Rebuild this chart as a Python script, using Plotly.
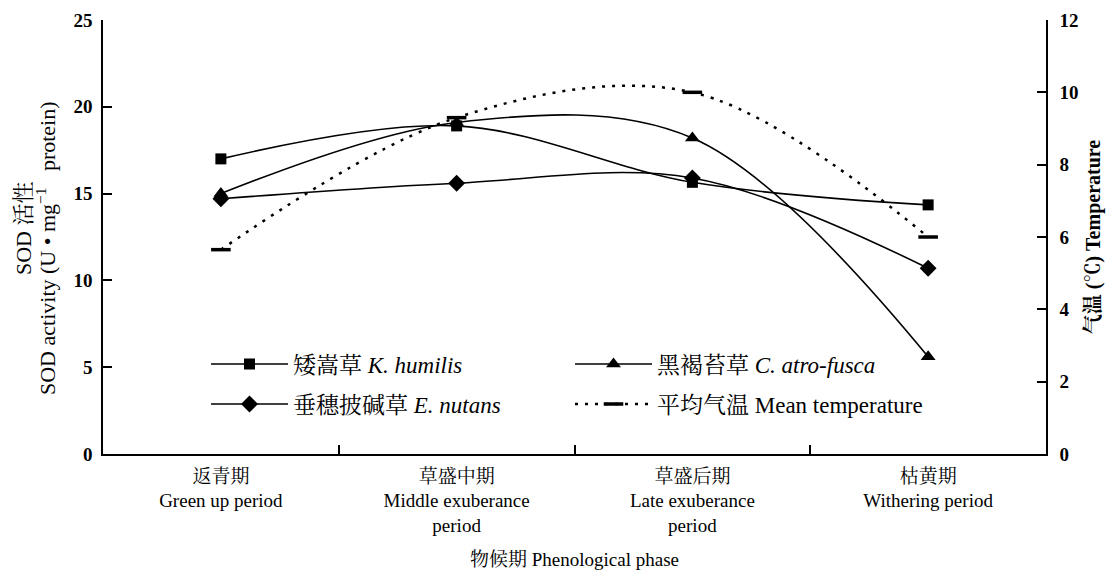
import plotly.graph_objects as go

categories = ["返青期<br>Green up period", "草盛中期<br>Middle exuberance<br>period",
              "草盛后期<br>Late exuberance<br>period", "枯黄期<br>Withering period"]
k_humilis = [17.0, 18.9, 15.65, 14.35]
c_atrofusca = [15.0, 19.1, 18.2, 5.6]
e_nutans = [14.7, 15.6, 15.9, 10.7]
mean_temp = [5.65, 9.3, 10.0, 6.0]

FONT = "Liberation Serif, Noto Serif CJK SC, Noto Sans CJK SC, serif"
OFF = 8  # page body margin
W, H = 1114 - 2 * OFF, 578 - 2 * OFF
ml, mt = 103 - OFF, 20 - OFF
mr = W - (1046 - OFF)
mb = H - (454 - OFF)
pw = W - ml - mr
ph = H - mt - mb


def px(sx):
    return (sx - OFF - ml) / pw


def py(sy):
    return (mt + ph - (sy - OFF)) / ph


fig = go.Figure()
common = dict(mode="lines+markers", line=dict(color="black", width=1.6, shape="spline", smoothing=1))
fig.add_trace(go.Scatter(x=categories, y=k_humilis, name="矮嵩草 <i>K. humilis</i>",
                         marker=dict(symbol="square", size=11, color="black"), legend="legend", **common))
fig.add_trace(go.Scatter(x=categories, y=c_atrofusca, name="黑褐苔草 <i>C. atro-fusca</i>",
                         marker=dict(symbol="triangle-up", size=13, color="black"), legend="legend", **common))
fig.add_trace(go.Scatter(x=categories, y=e_nutans, name="垂穗披碱草 <i>E. nutans</i>",
                         marker=dict(symbol="diamond", size=13, color="black"), legend="legend2", **common))
fig.add_trace(go.Scatter(x=categories, y=mean_temp, name="平均气温 Mean temperature", yaxis="y2",
                         mode="lines+markers",
                         line=dict(color="black", width=2.5, dash="3px,7px", shape="spline", smoothing=1),
                         marker=dict(symbol="line-ew", size=14, line=dict(color="black", width=3.5)),
                         legend="legend2"))

legcommon = dict(orientation="h", x=px(206), xanchor="left", yanchor="middle",
                 font=dict(family=FONT, size=23, color="black"),
                 entrywidth=272, entrywidthmode="pixels", itemwidth=77,
                 bgcolor="rgba(0,0,0,0)", borderwidth=0, itemclick=False)

fig.add_annotation(text="SOD 活性", xref="paper", yref="paper", x=px(23), y=py(228),
                   textangle=-90, showarrow=False, xanchor="center", yanchor="middle",
                   font=dict(family=FONT, size=22, color="black"))
fig.add_annotation(text="SOD activity (U • mg<sup>−1</sup>   protein)", xref="paper", yref="paper",
                   x=px(46), y=py(248), textangle=-90, showarrow=False, xanchor="center",
                   yanchor="middle", font=dict(family=FONT, size=22, color="black"))

fig.update_layout(
    width=W, height=H,
    margin=dict(l=ml, r=mr, t=mt, b=mb, autoexpand=False),
    paper_bgcolor="white", plot_bgcolor="white",
    font=dict(family=FONT, color="black"),
    showlegend=True,
    legend=dict(y=py(364), **legcommon),
    legend2=dict(y=py(404), **legcommon),
    xaxis=dict(type="category", range=[-0.5, 3.5], showline=True, linecolor="black", linewidth=1.5,
               ticks="inside", tickson="boundaries", ticklen=9, tickcolor="black", tickwidth=1.5,
               showgrid=False, zeroline=False, ticklabelstandoff=4, automargin=False,
               tickfont=dict(family=FONT, size=19, color="black"),
               title=dict(text="物候期 Phenological phase", font=dict(family=FONT, size=19, color="black"),
                          standoff=29)),
    yaxis=dict(range=[0, 25], dtick=5, showline=True, linecolor="black", linewidth=1.5,
               ticks="inside", ticklen=9, tickcolor="black", tickwidth=1.5, automargin=False,
               showgrid=False, zeroline=False, ticklabelstandoff=5, ticklabeloverflow="allow",
               tickfont=dict(family=FONT, size=19, color="black", weight="bold")),
    yaxis2=dict(range=[0, 12], dtick=2, overlaying="y", side="right", showline=True, linecolor="black",
                linewidth=1.5, ticks="inside", ticklen=9, tickcolor="black", tickwidth=1.5,
                showgrid=False, zeroline=False, automargin=False, ticklabelstandoff=8,
                ticklabeloverflow="allow",
                tickfont=dict(family=FONT, size=19, color="black", weight="bold"),
                title=dict(text="气温 (℃) Temperature", font=dict(family=FONT, size=20, color="black",
                                                                weight="bold"), standoff=8)),
)

fig.write_html("out.html")
